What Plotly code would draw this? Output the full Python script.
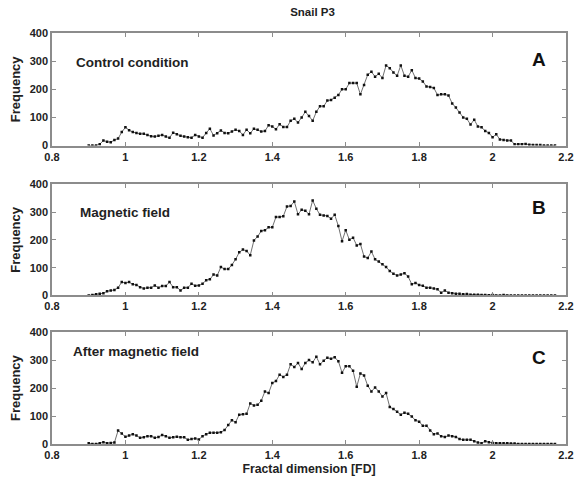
import plotly.graph_objects as go

# Fractal dimension bins (0.90 .. 2.17 step 0.01)
fd = [round(0.90 + 0.01 * i, 2) for i in range(128)]

control = [0, 0, 0, 5, 18, 14, 12, 20, 25, 48,
           65, 55, 48, 45, 42, 42, 38, 33, 32, 35,
           38, 32, 28, 46, 40, 35, 32, 30, 28, 38,
           32, 28, 45, 60, 36, 44, 54, 45, 44, 50,
           56, 52, 38, 56, 44, 60, 56, 50, 52, 72,
           68, 58, 76, 66, 66, 88, 95, 82, 100, 120,
           105, 88, 120, 140, 140, 160, 162, 170, 180, 200,
           200, 222, 222, 222, 182, 215, 252, 262, 245, 255,
           240, 285, 275, 260, 248, 285, 248, 245, 268, 240,
           238, 228, 210, 208, 205, 180, 182, 182, 178, 150,
           135, 118, 100, 95, 75, 92, 68, 65, 52, 45,
           30, 40, 22, 20, 18, 18, 5, 5, 5, 6,
           3, 2, 2, 2, 0, 0, 0, 0]

magnetic = [0, 2, 4, 6, 8, 15, 18, 20, 28, 48,
            45, 48, 40, 38, 30, 25, 28, 28, 36, 28,
            34, 34, 48, 30, 30, 18, 28, 28, 42, 35,
            36, 42, 55, 58, 75, 72, 102, 95, 95, 110,
            130, 155, 165, 160, 145, 198, 212, 232, 235, 245,
            245, 282, 282, 285, 320, 322, 338, 292, 308, 305,
            292, 342, 312, 290, 288, 286, 276, 290, 250, 195,
            235, 200, 208, 180, 185, 140, 135, 158, 130, 122,
            112, 102, 88, 78, 72, 75, 80, 68, 40, 45,
            38, 35, 28, 28, 25, 22, 10, 18, 10, 8,
            6, 6, 4, 5, 3, 3, 3, 2, 2, 1,
            2, 0, 0, 2, 0, 0, 0, 0, 0, 0,
            0, 0, 0, 0, 0, 0, 0, 0]

after = [3, 0, 0, 3, 6, 3, 4, 5, 48, 38,
         26, 30, 35, 30, 22, 24, 28, 28, 22, 25,
         32, 28, 22, 24, 26, 24, 24, 15, 18, 20,
         16, 28, 35, 40, 40, 40, 42, 50, 68, 85,
         78, 105, 106, 108, 145, 138, 140, 155, 188, 182,
         218, 225, 248, 240, 248, 285, 275, 290, 268, 290,
         300, 292, 312, 285, 298, 308, 305, 310, 296, 255,
         278, 278, 262, 205, 252, 245, 208, 188, 202, 188,
         170, 182, 132, 125, 115, 105, 112, 108, 98, 85,
         80, 65, 65, 48, 35, 38, 28, 25, 30, 28,
         25, 18, 15, 15, 15, 10, 5, 3, 10, 6,
         4, 3, 3, 3, 3, 2, 2, 0, 0, 0,
         0, 0, 0, 0, 0, 0, 0, 0]

x_ticks = [0.8, 1.0, 1.2, 1.4, 1.6, 1.8, 2.0, 2.2]
x_tick_labels = ["0.8", "1", "1.2", "1.4", "1.6", "1.8", "2", "2.2"]
y_ticks = [0, 100, 200, 300, 400]
y_tick_labels = ["0", "100", "200", "300", "400"]

panel_labels = ["Control condition", "Magnetic field", "After magnetic field"]
panel_letters = ["A", "B", "C"]
series = [control, magnetic, after]

FONT = "Liberation Sans, Arial, sans-serif"
AXIS_GREY = "#8c8c8c"

fig = go.Figure()

domains = [[0.726, 1.0], [0.3614, 0.632], [0.0, 0.2722]]
label_pos = [(0.86, 295), (0.871, 300), (0.851, 330)]
letter_y = [305, 316, 310]

for i, vals in enumerate(series):
    n = i + 1
    xa = "x" if n == 1 else f"x{n}"
    ya = "y" if n == 1 else f"y{n}"
    fig.add_trace(go.Scatter(
        x=fd, y=vals, xaxis=xa, yaxis=ya, mode="lines+markers",
        line=dict(color="#707070", width=1),
        marker=dict(symbol="square", size=2.5, color="#111111"),
        showlegend=False, hoverinfo="x+y"))
    axcommon = dict(showline=True, linecolor=AXIS_GREY, linewidth=1.5,
                    mirror="ticks", ticks="inside", ticklen=4,
                    tickcolor=AXIS_GREY, tickwidth=1, showgrid=False,
                    zeroline=False,
                    tickfont=dict(family=FONT, size=11, color="#222222",
                                  weight="bold"))
    xkey = "xaxis" if n == 1 else f"xaxis{n}"
    ykey = "yaxis" if n == 1 else f"yaxis{n}"
    xdict = dict(axcommon, range=[0.8, 2.2], tickvals=x_ticks,
                 ticktext=x_tick_labels, anchor=ya)
    if n == 3:
        xdict["title"] = dict(text="Fractal dimension [FD]", standoff=4,
                              font=dict(family=FONT, size=12.3, color="#222222",
                                        weight="bold"))
    ydict = dict(axcommon, range=[0, 400], tickvals=y_ticks,
                 ticktext=y_tick_labels, domain=domains[i], anchor=xa,
                 title=dict(text="Frequency", standoff=6,
                            font=dict(family=FONT, size=13, color="#222222",
                                      weight="bold")))
    fig.update_layout({xkey: xdict, ykey: ydict})

    lx, ly = label_pos[i]
    fig.add_annotation(x=lx, y=ly, xref=xa, yref=ya, text=panel_labels[i],
                       showarrow=False, xanchor="left", yanchor="middle",
                       font=dict(family=FONT, size=13.5, color="#222222",
                                 weight="bold"))
    fig.add_annotation(x=2.126, y=letter_y[i], xref=xa, yref=ya,
                       text=panel_letters[i], showarrow=False,
                       xanchor="center", yanchor="middle",
                       font=dict(family=FONT, size=19, color="#111111",
                                 weight="bold"))

fig.update_layout(
    width=582, height=482,
    margin=dict(l=51.5, r=8.5, t=33.3, b=37.3),
    paper_bgcolor="white", plot_bgcolor="white",
    title=dict(text="Snail P3", x=0.537, xanchor="center", y=0.975,
               yanchor="middle",
               font=dict(family=FONT, size=11.5, color="#222222",
                         weight="bold")),
)

fig.write_html("out.html", config={"displayModeBar": False},
               post_script="document.body.style.margin='0';document.body.style.overflow='hidden';")
